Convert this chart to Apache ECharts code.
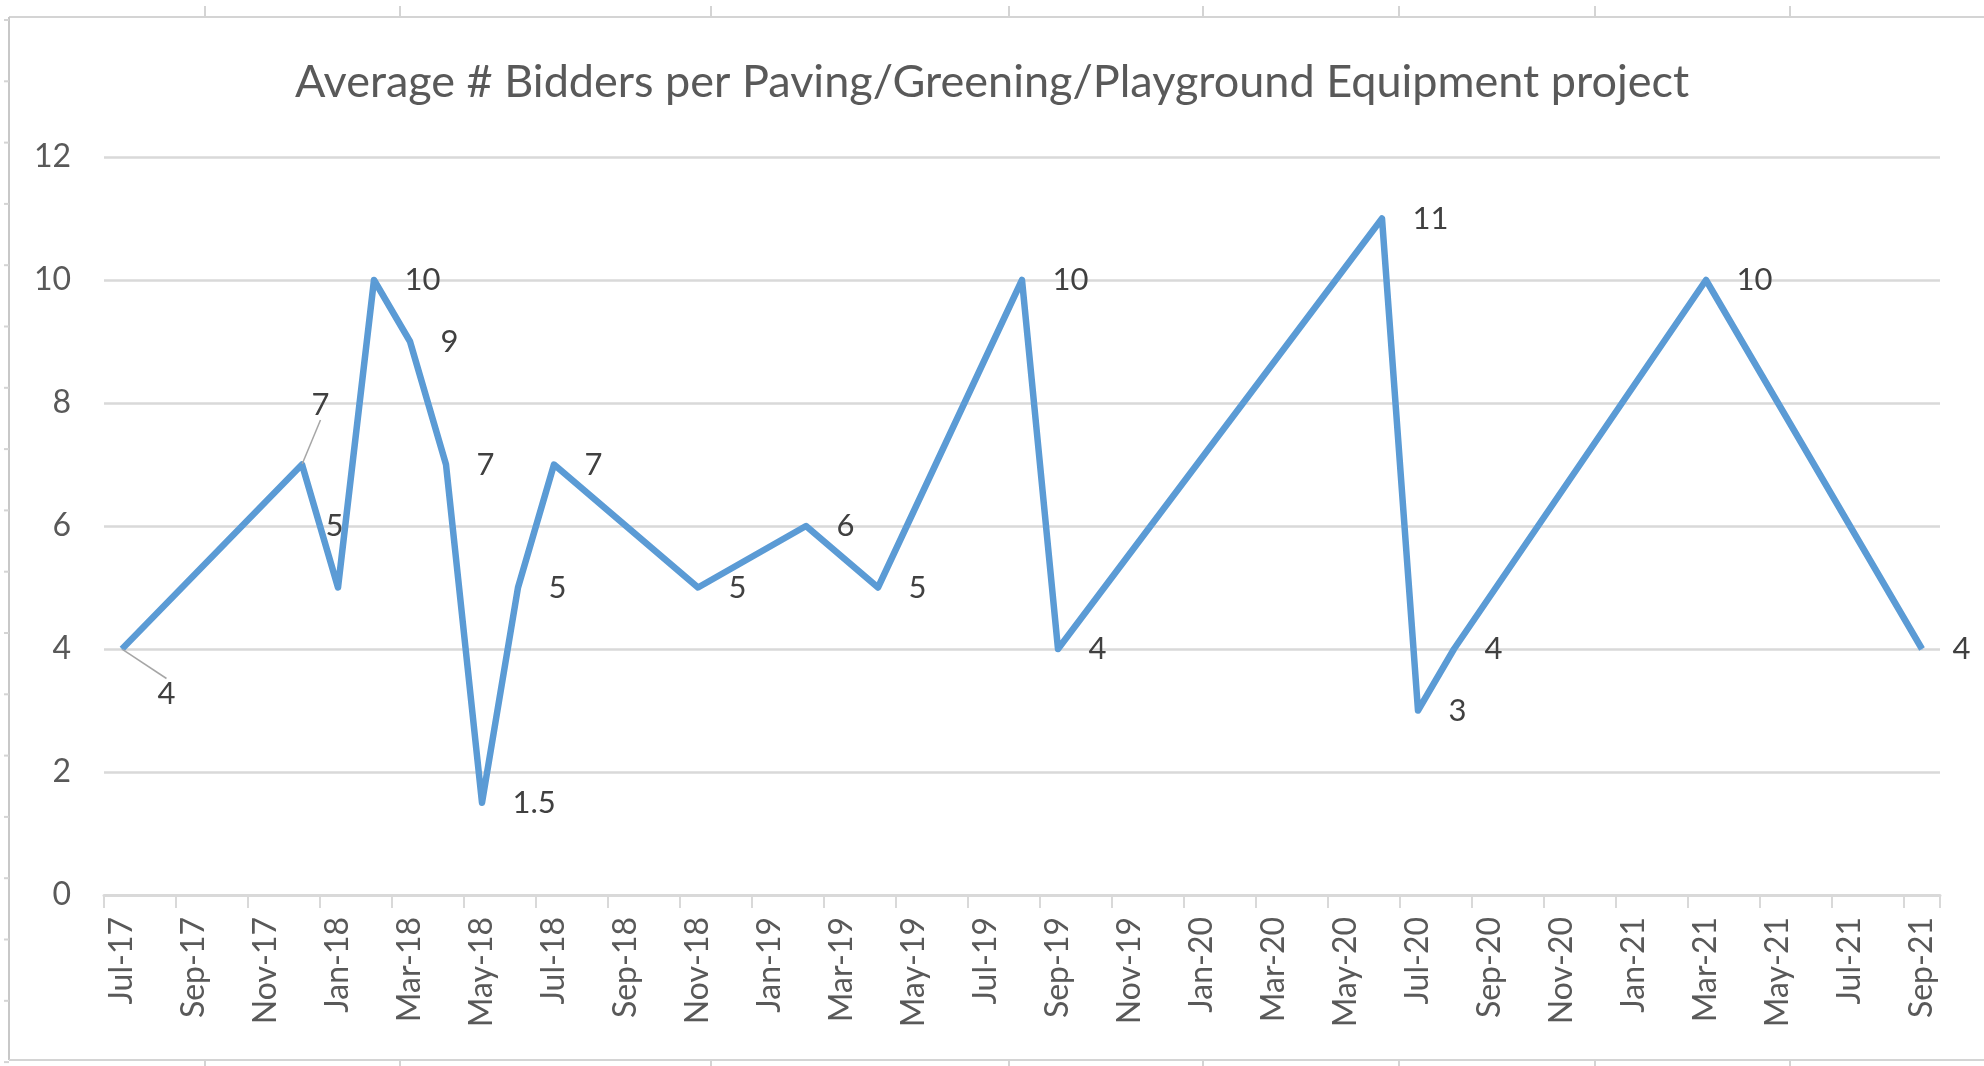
<!DOCTYPE html>
<html>
<head>
    <meta charset="utf-8">
    <title>Average # Bidders per Paving/Greening/Playground Equipment project</title>
    <script src="https://cdn.jsdelivr.net/npm/echarts@6/dist/echarts.min.js"></script>
    <style>
        html, body {
            margin: 0;
            padding: 0;
            background: #fff;
        }
        #chartShow {
            width: 1984px;
            height: 1066px;
        }
    </style>
</head>
<body>
<div id="chartShow"></div>
<script>
    // every month on the date axis, Jul-17 .. Sep-21
    var months = [
        'Jul-17', 'Aug-17', 'Sep-17', 'Oct-17', 'Nov-17', 'Dec-17',
        'Jan-18', 'Feb-18', 'Mar-18', 'Apr-18', 'May-18', 'Jun-18',
        'Jul-18', 'Aug-18', 'Sep-18', 'Oct-18', 'Nov-18', 'Dec-18',
        'Jan-19', 'Feb-19', 'Mar-19', 'Apr-19', 'May-19', 'Jun-19',
        'Jul-19', 'Aug-19', 'Sep-19', 'Oct-19', 'Nov-19', 'Dec-19',
        'Jan-20', 'Feb-20', 'Mar-20', 'Apr-20', 'May-20', 'Jun-20',
        'Jul-20', 'Aug-20', 'Sep-20', 'Oct-20', 'Nov-20', 'Dec-20',
        'Jan-21', 'Feb-21', 'Mar-21', 'Apr-21', 'May-21', 'Jun-21',
        'Jul-21', 'Aug-21', 'Sep-21'
    ];
    // months that have a value
    var pointMonths = [
        'Jul-17', 'Dec-17', 'Jan-18', 'Feb-18', 'Mar-18', 'Apr-18', 'May-18',
        'Jun-18', 'Jul-18', 'Nov-18', 'Feb-19', 'Apr-19', 'Aug-19', 'Sep-19',
        'Jun-20', 'Jul-20', 'Aug-20', 'Mar-21', 'Sep-21'
    ];
    var avgBidders = [4, 7, 5, 10, 9, 7, 1.5, 5, 7, 5, 6, 5, 10, 4, 11, 3, 4, 10, 4];
    var yTicks = [0, 2, 4, 6, 8, 10, 12];

    var fontFamily = 'Lato';
    var chart = echarts.init(document.getElementById('chartShow'));

    // labels that Excel pushed off the default "right" spot
    var labelShift = {0: [5, 45], 1: [-21, -60], 2: [-43, -62]};

    var seriesData = pointMonths.map(function (m, i) {
        return {
            value: [m, avgBidders[i]],
            labelLine: {show: i < 2}
        };
    });

    // sheet borders / cell gridlines peeking round the chart
    var frame = [
        {type: 'line', shape: {x1: 9, y1: 17, x2: 1984, y2: 17}, style: {stroke: '#d4d4d4', lineWidth: 2}},
        {type: 'line', shape: {x1: 9, y1: 17, x2: 9, y2: 1060}, style: {stroke: '#c8c8c8', lineWidth: 2}},
        {type: 'line', shape: {x1: 9, y1: 1060, x2: 1984, y2: 1060}, style: {stroke: '#d4d4d4', lineWidth: 2}}
    ];
    [205, 400, 711, 1009, 1203, 1399, 1595, 1790].forEach(function (x) {
        frame.push({type: 'line', shape: {x1: x, y1: 6, x2: x, y2: 17}, style: {stroke: '#d4d4d4', lineWidth: 2}});
        frame.push({type: 'line', shape: {x1: x, y1: 1060, x2: x, y2: 1066}, style: {stroke: '#d4d4d4', lineWidth: 2}});
    });
    for (var ry = 20; ry < 1066; ry += 61.3) {
        frame.push({type: 'line', shape: {x1: 4, y1: ry, x2: 9, y2: ry}, style: {stroke: '#d4d4d4', lineWidth: 2}});
    }

    var option = {
        backgroundColor: '#fff',
        animation: false,
        title: {
            text: 'Average # Bidders per Paving/Greening/Playground Equipment project',
            left: 'center',
            top: 55,
            textStyle: {
                fontFamily: fontFamily,
                fontSize: 45,
                fontWeight: 'normal',
                color: '#595959'
            }
        },
        graphic: frame,
        grid: {
            left: 104,
            right: 44,
            top: 157,
            bottom: 171
        },
        xAxis: {
            type: 'category',
            data: months,
            boundaryGap: true,
            axisLine: {lineStyle: {color: '#d9d9d9', width: 3}},
            axisTick: {
                show: true,
                interval: 1,
                length: 13,
                lineStyle: {color: '#d9d9d9', width: 2}
            },
            axisLabel: {
                interval: 1,
                rotate: 90,
                margin: 22,
                fontFamily: fontFamily,
                fontSize: 32,
                color: '#595959'
            },
            splitLine: {show: false}
        },
        yAxis: {
            type: 'value',
            min: yTicks[0],
            max: yTicks[yTicks.length - 1],
            interval: 2,
            axisLine: {show: false},
            axisTick: {show: false},
            axisLabel: {
                margin: 33,
                fontFamily: fontFamily,
                fontSize: 32,
                color: '#595959'
            },
            splitLine: {lineStyle: {color: '#d9d9d9', width: 2.5}}
        },
        series: [
            {
                name: 'Average # Bidders',
                type: 'line',
                data: seriesData,
                symbol: 'circle',
                symbolSize: 1,
                showSymbol: true,
                itemStyle: {color: '#5b9bd5'},
                lineStyle: {color: '#5b9bd5', width: 6.5, join: 'round'},
                label: {
                    show: true,
                    position: 'right',
                    distance: 30,
                    fontFamily: fontFamily,
                    fontSize: 31,
                    color: '#404040',
                    formatter: function (p) {
                        return p.value[1];
                    }
                },
                labelLine: {
                    lineStyle: {color: '#a6a6a6', width: 1.5}
                },
                labelLayout: function (p) {
                    var d = labelShift[p.dataIndex];
                    if (d) {
                        return {dx: d[0], dy: d[1]};
                    }
                }
            }
        ]
    };
    chart.setOption(option);
</script>
</body>
</html>
